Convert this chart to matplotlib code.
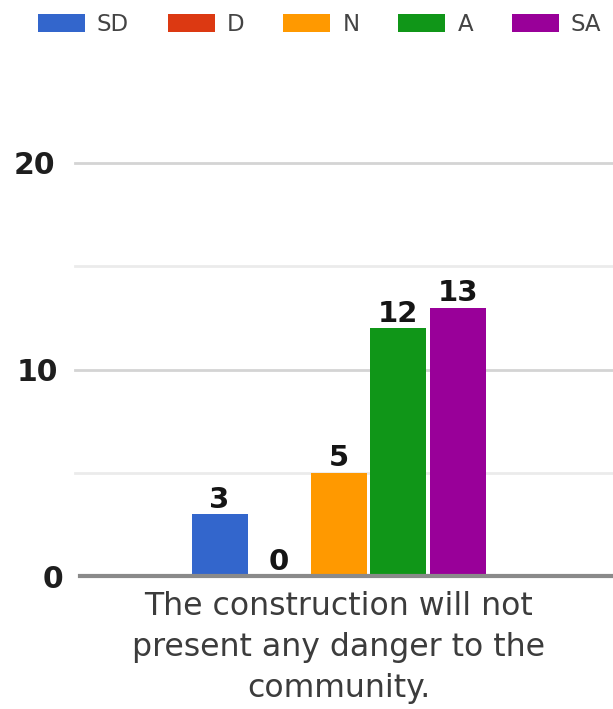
import matplotlib
matplotlib.use("Agg")
import matplotlib.pyplot as plt
from matplotlib.patches import Patch
from matplotlib.transforms import ScaledTranslation

# Survey responses for one statement
categories = ["SD", "D", "N", "A", "SA"]
counts = [3, 0, 5, 12, 13]
colors = ["#3366cc", "#dc3912", "#ff9900", "#109618", "#990099"]
statement = "The construction will not\npresent any danger to the\ncommunity."
y_ticks = [0, 10, 20]
y_minor = [5, 15]

W, H = 613, 709
fig = plt.figure(figsize=(W / 100, H / 100), dpi=100)
fig.patch.set_facecolor("white")

ax_left = 75 / W
ax_bottom = (H - 576) / H
ax_height = (576 - 163) / H
ax = fig.add_axes([ax_left, ax_bottom, 1.0 - ax_left, ax_height])

positions = [i - 2 for i in range(len(categories))]
bars = ax.bar(positions, counts, width=0.94, color=colors, zorder=3)

ax.set_xlim(-4.43, 4.61)
ax.set_ylim(0, 20)

# gridlines
for v in y_ticks[1:]:
    ax.axhline(v, color="#d4d4d4", lw=2, zorder=1, clip_on=False)
for v in y_minor:
    ax.axhline(v, color="#ebebeb", lw=2, zorder=1, clip_on=False)
ax.axhline(0, xmin=5 / (W - 75), color="#8a8a8a", lw=3, zorder=4, clip_on=False)

for s in ax.spines.values():
    s.set_visible(False)

ax.set_yticks(y_ticks)
ax.set_yticklabels([str(v) for v in y_ticks], family="DejaVu Sans",
                   fontweight="bold", fontsize=21.5, color="#1e1e1e")
ax.tick_params(axis="y", length=0, pad=14)
# nudge the lower tick labels slightly toward the axis
for lab, dx in zip(ax.get_yticklabels(), [8, 2, 0]):
    lab.set_transform(lab.get_transform()
                      + ScaledTranslation(dx / 100, 0, fig.dpi_scale_trans))

ax.set_xticks([0])
ax.set_xticklabels([statement], family="DejaVu Sans", fontsize=22.7,
                   color="#3c3c3c", linespacing=1.42)
ax.tick_params(axis="x", length=0, pad=11)

# value labels above the bars
for x, v in zip(positions, counts):
    ax.annotate(str(v), (x, v), xytext=(0, 4.5), textcoords="offset points",
                ha="center", va="baseline", family="DejaVu Sans",
                fontweight="bold", fontsize=21, color="#151515",
                zorder=5)

handles = [Patch(facecolor=c, edgecolor="none") for c in colors]
fig.legend(handles, categories, loc="center left",
           bbox_to_anchor=(38 / W, 1 - 24.5 / H), ncol=5, frameon=False,
           prop={"family": "DejaVu Sans", "size": 16.5},
           labelcolor="#444444", handlelength=2.05, handleheight=0.83,
           handletextpad=0.52, columnspacing=1.7, borderpad=0,
           borderaxespad=0)

fig.savefig("out.png", dpi=100, facecolor="white")
